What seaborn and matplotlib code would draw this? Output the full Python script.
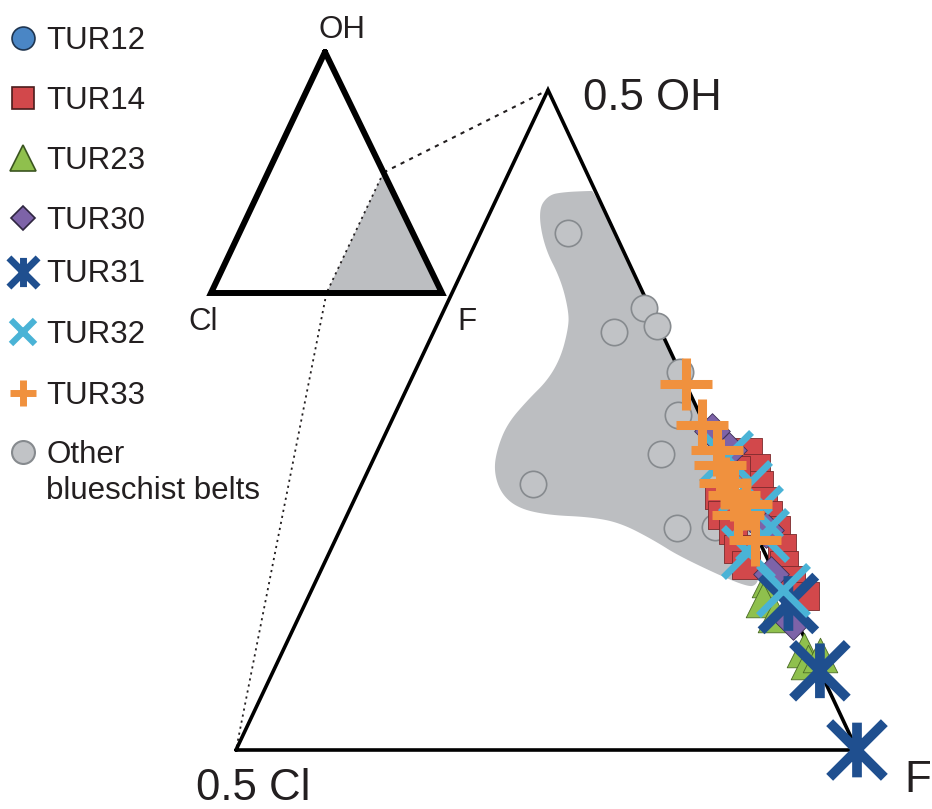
import numpy as np
import pandas as pd
import matplotlib
matplotlib.use("Agg")
import matplotlib.pyplot as plt
from matplotlib.path import Path
from matplotlib.patches import Polygon
import seaborn as sns

# Halogen-site mole fractions of tourmaline analyses (Cl = 1 - OH - F)
other_oh = [0.392, 0.335, 0.321, 0.317, 0.286, 0.254, 0.224, 0.2015, 0.168, 0.169]
other_f = [0.570, 0.660, 0.678, 0.645, 0.714, 0.728, 0.730, 0.638, 0.771, 0.801]

tur12_oh = []
tur12_f = []

tur14_oh = [0.226, 0.214, 0.201, 0.189, 0.178, 0.167, 0.153, 0.140, 0.129, 0.117,
            0.193, 0.178, 0.167, 0.152, 0.140, 0.212]
tur14_f = [0.799, 0.811, 0.820, 0.829, 0.839, 0.851, 0.863, 0.871, 0.882, 0.899,
           0.792, 0.802, 0.816, 0.828, 0.840, 0.796]

tur23_oh = [0.129, 0.114, 0.102, 0.076, 0.067, 0.072]
tur23_f = [0.864, 0.867, 0.883, 0.919, 0.927, 0.934]

tur30_oh = [0.242, 0.227, 0.167, 0.133, 0.097]
tur30_f = [0.762, 0.783, 0.843, 0.864, 0.900]

tur31_oh = [0.111, 0.060, 0.000]
tur31_f = [0.889, 0.940, 1.000]

tur32_oh = [0.222, 0.199, 0.180, 0.163, 0.150, 0.121]
tur32_f = [0.783, 0.810, 0.828, 0.842, 0.837, 0.880]

tur33_oh = [0.277, 0.246, 0.227, 0.216, 0.202, 0.193, 0.186, 0.178, 0.159]
tur33_f = [0.723, 0.752, 0.773, 0.781, 0.792, 0.804, 0.817, 0.815, 0.838]

# Outline of the field of other blueschist belts
blob_oh = [0.409, 0.4205, 0.4227, 0.4235, 0.4235, 0.2121, 0.1742, 0.1439, 0.125,
           0.1235, 0.1462, 0.1591, 0.1720, 0.1765, 0.1780, 0.1833, 0.1947, 0.2121,
           0.2295, 0.2477, 0.2652, 0.2803, 0.2977, 0.3182, 0.3311, 0.3561, 0.3811]
blob_f = [0.5378, 0.5402, 0.5520, 0.5709, 0.5765, 0.7879, 0.8227, 0.8499, 0.8578,
          0.8481, 0.7844, 0.7562, 0.7232, 0.6968, 0.6614, 0.6346, 0.6152, 0.6009,
          0.5954, 0.5944, 0.6017, 0.6103, 0.6120, 0.6074, 0.6018, 0.5828, 0.5567]

legend_labels = ["TUR12", "TUR14", "TUR23", "TUR30", "TUR31", "TUR32", "TUR33",
                 "Other\nblueschist belts"]

# ---------------------------------------------------------------- styling
sns.set_style("white")
plt.rcParams["font.family"] = ["Liberation Sans", "DejaVu Sans"]
TXT = "#231f20"

W, H = 932, 809
fig = plt.figure(figsize=(W / 100, H / 100), dpi=100)
fig.patch.set_facecolor("white")
ax = fig.add_axes([0, 0, 1, 1])
ax.set_xlim(0, W)
ax.set_ylim(H, 0)
ax.axis("off")

# Main (F-rich half) triangle apexes: 0.5 Cl, F, 0.5 OH
M_CL = np.array([236.0, 750.0])
M_F = np.array([857.0, 750.0])
M_OH = np.array([548.0, 90.0])
# Small full triangle apexes: Cl, F, OH
S_CL = np.array([211.0, 293.0])
S_F = np.array([442.0, 293.0])
S_OH = np.array([325.0, 52.0])


def main_xy(oh, f):
    oh = np.asarray(oh, float)
    f = np.asarray(f, float)
    a = 2 * oh          # weight of the 0.5 OH apex
    c = 2 * f - 1       # weight of the F apex
    b = 1 - a - c       # weight of the 0.5 Cl apex
    x = b * M_CL[0] + c * M_F[0] + a * M_OH[0]
    y = b * M_CL[1] + c * M_F[1] + a * M_OH[1]
    return x, y


def small_xy(oh, f):
    oh = np.asarray(oh, float)
    f = np.asarray(f, float)
    cl = 1 - oh - f
    x = cl * S_CL[0] + f * S_F[0] + oh * S_OH[0]
    y = cl * S_CL[1] + f * S_F[1] + oh * S_OH[1]
    return x, y


def chaikin(pts, n=4):
    for _ in range(n):
        nxt = np.roll(pts, -1, axis=0)
        q = 0.75 * pts + 0.25 * nxt
        r = 0.25 * pts + 0.75 * nxt
        pts = np.empty((2 * len(pts), 2))
        pts[0::2] = q
        pts[1::2] = r
    return pts


# ---------------------------------------------------------------- small triangle
sx, sy = small_xy([0.5, 0.0, 0.0], [0.5, 0.5, 1.0])
ax.add_patch(Polygon(np.column_stack([sx, sy]), closed=True, facecolor="#bcbec1",
                     edgecolor="none", zorder=1))
ax.plot([sx[0], sx[1]], [sy[0], sy[1]], color="#231f20", lw=1.3,
        ls=(0, (1.2, 2.2)), zorder=2)
tx, ty = small_xy([1, 0, 0, 1], [0, 0, 1, 0])
ax.plot(tx, ty, color="black", lw=4.3, solid_joinstyle="miter", zorder=3)

# connectors from the shaded corner to the enlarged triangle
mx, my = main_xy([0.5, 0.0], [0.5, 0.5])
ax.plot([sx[0], mx[0]], [sy[0], my[0]], color="#231f20", lw=1.5,
        ls=(0, (2.0, 2.6)), zorder=2)
ax.plot([sx[1], mx[1]], [sy[1], my[1]], color="#231f20", lw=1.3,
        ls=(0, (1.2, 2.2)), zorder=2)

# ---------------------------------------------------------------- main triangle
bx, by = main_xy(blob_oh, blob_f)
blob = chaikin(np.column_stack([bx, by]), 4)
ax.add_patch(Polygon(blob, closed=True, facecolor="#bcbec1", edgecolor="none",
                     zorder=1))
fx, fy = main_xy([0.0, 0.0, 0.5, 0.0], [0.5, 1.0, 0.5, 0.5])
ax.plot(fx, fy, color="black", lw=2.6, solid_joinstyle="miter", zorder=3)

# asterisk marker used for TUR31
asterisk = Path([(-1, -1), (1, 1), (-1, 1), (1, -1), (0, -1), (0, 1)],
                [Path.MOVETO, Path.LINETO, Path.MOVETO, Path.LINETO,
                 Path.MOVETO, Path.LINETO])

series = [
    # name, oh, f, marker, size, face, edge, lw, z
    ("Other", other_oh, other_f, "o", 360, "#c1c3c6", "#868a8e", 1.2, 4),
    ("TUR12", tur12_oh, tur12_f, "o", 330, "#4a86c5", "#1f3550", 0.8, 5),
    ("TUR14", tur14_oh, tur14_f, "s", 420, "#d2484b", "#7a2a2c", 0.6, 5),
    ("TUR23", tur23_oh, tur23_f, "^", 620, "#8fc04d", "#4a6a25", 0.6, 6),
    ("TUR30", tur30_oh, tur30_f, "D", 330, "#7d63a8", "#3c2f55", 0.6, 7),
    ("TUR31", tur31_oh, tur31_f, asterisk, 1550, "#1f4f8f", "#1f4f8f", 7.0, 8),
    ("TUR32", tur32_oh, tur32_f, "x", 1300, "#4ab3d6", "#4ab3d6", 5.0, 9),
    ("TUR33", tur33_oh, tur33_f, "+", 1450, "#f0913e", "#f0913e", 6.5, 10),
]

for name, oh, f, mk, size, face, edge, lw, z in series:
    if len(oh) == 0:
        continue
    px, py = main_xy(oh, f)
    df = pd.DataFrame({"x": px, "y": py, "sample": name})
    if mk in ("x", "+"):
        sns.scatterplot(data=df, x="x", y="y", marker=mk, s=size, color=face,
                        linewidth=lw, ax=ax, legend=False, zorder=z)
    elif mk is asterisk:
        sns.scatterplot(data=df, x="x", y="y", marker=mk, s=size,
                        facecolor="none", edgecolor=edge, linewidth=lw,
                        ax=ax, legend=False, zorder=z)
    else:
        sns.scatterplot(data=df, x="x", y="y", marker=mk, s=size, color=face,
                        edgecolor=edge, linewidth=lw, ax=ax, legend=False,
                        zorder=z)

ax.set_xlim(0, W)
ax.set_ylim(H, 0)
ax.set_xlabel("")
ax.set_ylabel("")

# ---------------------------------------------------------------- apex labels
ax.text(342, 38, "OH", fontsize=22.5, color=TXT, ha="center", va="baseline")
ax.text(203, 330, "Cl", fontsize=22.5, color=TXT, ha="center", va="baseline")
ax.text(467, 330, "F", fontsize=22.5, color=TXT, ha="center", va="baseline")
ax.text(583, 110, "0.5 OH", fontsize=31.5, color=TXT, ha="left", va="baseline")
ax.text(196, 800, "0.5 Cl", fontsize=31.5, color=TXT, ha="left", va="baseline")
ax.text(904, 792, "F", fontsize=31.5, color=TXT, ha="left", va="baseline")

# ---------------------------------------------------------------- key
key_y = [38, 98, 158, 218, 272, 332, 393, 452]
key_style = [
    dict(marker="o", ms=16.5, mfc="#4a86c5", mec="#1f3550", mew=1.2),
    dict(marker="s", ms=16.5, mfc="#d2484b", mec="#4a1c1c", mew=1.2),
    dict(marker="^", ms=18.5, mfc="#8fc04d", mec="#3b5520", mew=1.2),
    dict(marker="D", ms=12.0, mfc="#7d63a8", mec="#2e2540", mew=1.2),
    dict(marker=asterisk, ms=21.0, mfc="none", mec="#1f4f8f", mew=5.0),
    dict(marker="x", ms=17.5, mfc="none", mec="#4ab3d6", mew=4.5),
    dict(marker="+", ms=19.0, mfc="none", mec="#f0913e", mew=5.0),
    dict(marker="o", ms=16.5, mfc="#c1c3c6", mec="#868a8e", mew=1.5),
]
for y, lab, st in zip(key_y, legend_labels, key_style):
    ax.plot([23], [y], ls="none", zorder=5, **st)
    # first line of each label sits level with its key symbol
    ax.text(46, y - 12.5, lab, fontsize=22.5, color=TXT, ha="left",
            va="top", linespacing=1.28)

fig.savefig("out.png", dpi=100, facecolor="white")
